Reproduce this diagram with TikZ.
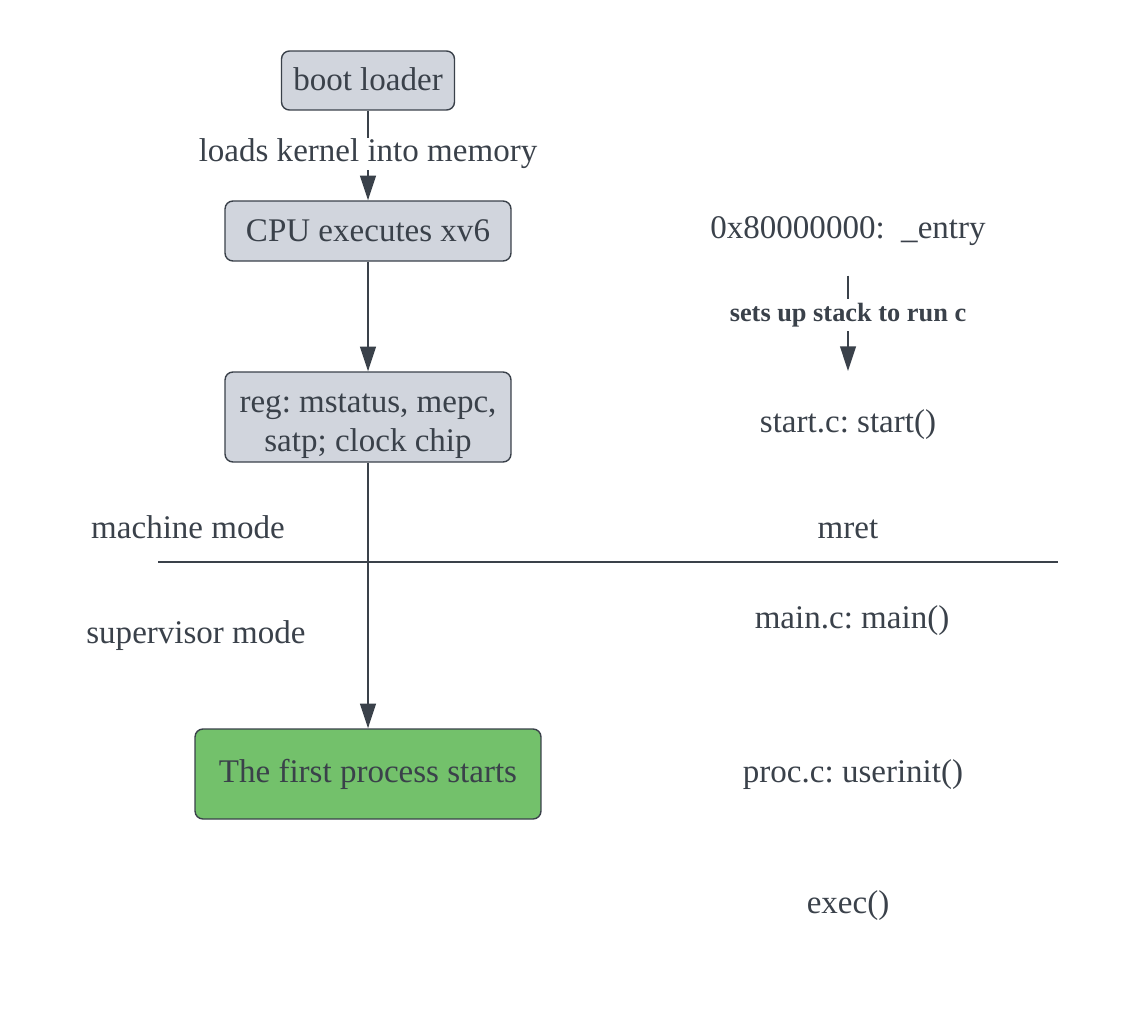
\documentclass[tikz,border=0pt]{standalone}
\usepackage{fontspec}
\setmainfont{Liberation Serif}
\usetikzlibrary{arrows.meta, positioning}
\definecolor{ink}{HTML}{3A414A}
\definecolor{boxgray}{HTML}{D1D5DD}
\definecolor{procgreen}{HTML}{73C16B}
\frenchspacing

\begin{document}
\begin{tikzpicture}[x=0.02cm, y=-0.02cm,
  stage/.style={rectangle, rounded corners=4.5pt, draw=ink, line width=0.8pt, fill=boxgray, text=ink, align=center, font=\fontsize{18.8}{22}\selectfont, inner sep=0pt},
  call/.style={text=ink, align=center, font=\fontsize{18.8}{22}\selectfont},
  arr/.style={-{Triangle[length=14pt, width=9pt]}, draw=ink, line width=0.85pt}
]
\useasboundingbox (0,0) rectangle (1132,1018);

\node[stage, minimum width=3.46cm, minimum height=1.18cm] (boot) at (368, 80.5) {\raisebox{2pt}{boot loader}};
\node[stage, minimum width=5.72cm, minimum height=1.2cm] (cpu) at (368, 231) {\raisebox{1pt}{CPU executes xv6}};
\node[stage, minimum width=5.72cm, minimum height=1.8cm] (regs) at (368, 417) {\rule{0pt}{21pt}reg: mstatus, mepc,\\satp; clock chip};
\node[stage, fill=procgreen, minimum width=6.92cm, minimum height=1.8cm] (firstproc) at (368, 774) {The first process starts};

\node[call] (mmode) at (188, 527) {machine mode};
\node[call] (smode) at (196, 636) {supervisor mode};

\node[call] (entry) at (848, 231) {0x80000000:\ \ \_entry};
\node[call] (start) at (848, 425) {start.c: start()};
\node[call] (mret) at (848, 529) {mret};
\node[call] (mainc) at (852, 621) {main.c: main()};
\node[call] (userinit) at (853, 775) {proc.c: userinit()};
\node[call] (exec) at (848, 906) {exec()};

\draw[ink, line width=0.8pt] (158, 562) -- (1058, 562);

\draw[arr] (boot) -- node[pos=0.48, fill=white, text=ink, inner xsep=2pt, inner ysep=0.5pt, font=\fontsize{18.8}{22}\selectfont] {loads kernel into memory} (cpu);
\draw[arr] (cpu) -- (regs);
\draw[arr] (regs) -- (firstproc);
\draw[arr, shorten <=13.6pt, shorten >=18.7pt] (entry) -- node[pos=0.415, fill=white, text=ink, inner sep=2.5pt, font=\fontsize{15}{18}\selectfont\bfseries] {sets up stack to run c} (start);

\end{tikzpicture}
\end{document}
